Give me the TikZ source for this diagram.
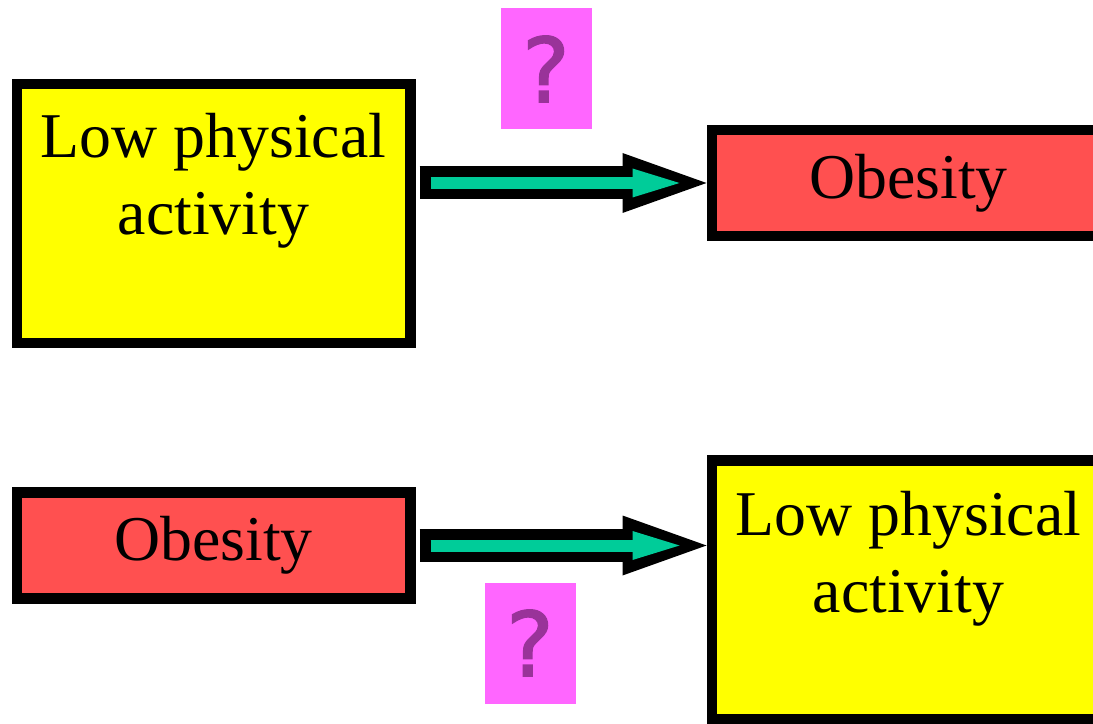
\documentclass[tikz,border=0pt]{standalone}
\usepackage{fontspec}
\setmainfont{Liberation Serif}
\newfontfamily\qfont[FakeBold=1.6]{DejaVu Sans}
\usetikzlibrary{arrows.meta}
\definecolor{boxyellow}{HTML}{FFFF00}
\definecolor{boxred}{HTML}{FF5050}
\definecolor{arrteal}{HTML}{00CC99}
\definecolor{qpink}{HTML}{FF66FF}
\definecolor{qpurple}{HTML}{993399}
\tikzset{
  box/.style={draw=black, line width=0.21cm, rectangle, minimum width=7.87cm, inner sep=0pt},
  yellowbox/.style={box, fill=boxyellow, minimum height=5.18cm},
  redbox/.style={box, fill=boxred, minimum height=2.12cm,
    font=\fontsize{36.3}{43.8}\selectfont},
  lbl/.style={anchor=north, inner sep=0pt, align=center,
    font=\fontsize{36.3}{43.8}\selectfont},
  qbox/.style={fill=qpink, minimum width=1.82cm, minimum height=2.42cm, inner sep=0pt,
    text=qpurple, font=\qfont\fontsize{51}{51}\selectfont},
  outerarr/.style={line width=0.66cm, black, shorten <=0.08cm,
    -{Triangle[length=1.68cm, width=1.2cm, line width=0pt]}},
  innerarr/.style={line width=0.24cm, arrteal, shorten <=0.3cm, shorten >=0.54cm,
    -{Triangle[length=0.94cm, width=0.58cm, line width=0pt]}}
}
\begin{document}
\begin{tikzpicture}
\useasboundingbox (0,0) rectangle (21.86,14.46);
% top row
\node[yellowbox] (A1) at (4.27,10.19) {};
\node[lbl] (A1t) at (4.27,12.21) {Low physical\\activity};
\node[redbox] (B1) at (18.17,10.80) {Obesity};
\node[qbox] (Q1) at (10.92,13.08) {?};
% bottom row
\node[redbox] (B2) at (4.27,3.55) {Obesity};
\node[yellowbox] (A2) at (18.17,2.66) {};
\node[lbl] (A2t) at (18.17,4.65) {Low physical\\activity};
\node[qbox] (Q2) at (10.60,1.60) {?};

\draw[outerarr] (B1.west -| A1.east) -- (B1.west);
\draw[innerarr] (B1.west -| A1.east) -- (B1.west);
\draw[outerarr] (B2.east) -- (B2.east -| A2.west);
\draw[innerarr] (B2.east) -- (B2.east -| A2.west);
\end{tikzpicture}
\end{document}
